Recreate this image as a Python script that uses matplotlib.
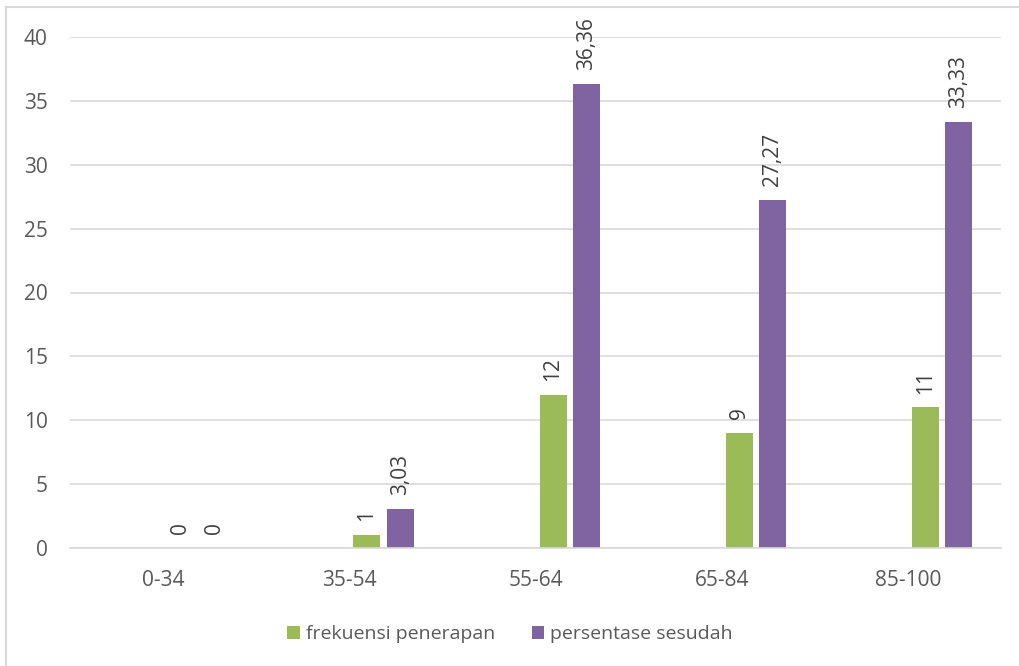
import numpy as np
import matplotlib.pyplot as plt
from matplotlib.lines import Line2D
from matplotlib.patches import Patch

# score ranges and the two series
categories = ["0-34", "35-54", "55-64", "65-84", "85-100"]
frekuensi = [0, 1, 12, 9, 11]
persentase = [0, 3.03, 36.36, 27.27, 33.33]
yticks = [0, 5, 10, 15, 20, 25, 30, 35, 40]

GREEN = "#9bbb59"
PURPLE = "#8064a2"
TEXT = "#595959"
GRID = "#d9d9d9"

plt.rcParams["font.family"] = ["Open Sans", "DejaVu Sans"]

fig = plt.figure(figsize=(10.2, 6.66), dpi=100)
ax = fig.add_axes([70 / 1020, 1 - 548 / 666, 931 / 1020, 511 / 666])

x = np.arange(len(categories))
bar_w = 0.145
off_g = 0.094
off_p = 0.274

bars_g = ax.bar(x + off_g, frekuensi, width=bar_w, color=GREEN, zorder=3)
bars_p = ax.bar(x + off_p, persentase, width=bar_w, color=PURPLE, zorder=3)


def fmt(v):
    if float(v).is_integer():
        return f"{int(v)}"
    return f"{v:.2f}".replace(".", ",")


for bars, vals in ((bars_g, frekuensi), (bars_p, persentase)):
    for b, v in zip(bars, vals):
        ax.annotate(fmt(v), (b.get_x() + b.get_width() / 2, v),
                    xytext=(0, 10), textcoords="offset points",
                    rotation=90, ha="center", va="bottom",
                    fontsize=15, color="#404040", annotation_clip=False)

ax.set_xlim(-0.5, len(categories) - 0.5)
ax.set_ylim(0, 40)
ax.set_yticks(yticks)
ax.set_xticks(x)
ax.set_xticklabels(categories)
ax.tick_params(axis="both", length=0, labelsize=15, colors=TEXT)
ax.tick_params(axis="x", pad=16)
ax.tick_params(axis="y", pad=16)
ax.grid(axis="y", color=GRID, linewidth=1.2, zorder=0)
for side in ("top", "right", "left"):
    ax.spines[side].set_visible(False)
ax.spines["bottom"].set_color(GRID)
ax.spines["bottom"].set_linewidth(1.2)
ax.spines["bottom"].set_zorder(4)

handles = [
    Patch(facecolor=GREEN, label="frekuensi penerapan"),
    Patch(facecolor=PURPLE, label="persentase sesudah"),
]
fig.legend(handles=handles, loc="center", bbox_to_anchor=(510 / 1020, 1 - 634 / 666),
           ncol=2, frameon=False, fontsize=14, labelcolor=TEXT,
           handlelength=0.65, handleheight=0.65, handletextpad=0.3, columnspacing=1.9)

# chart area border
fig.add_artist(Line2D([6 / 1020, 6 / 1020], [0, 1 - 7 / 666], color=GRID, lw=1.5))
fig.add_artist(Line2D([6 / 1020, 1], [1 - 7 / 666, 1 - 7 / 666], color=GRID, lw=1.5))

fig.savefig("out.png", dpi=100)
